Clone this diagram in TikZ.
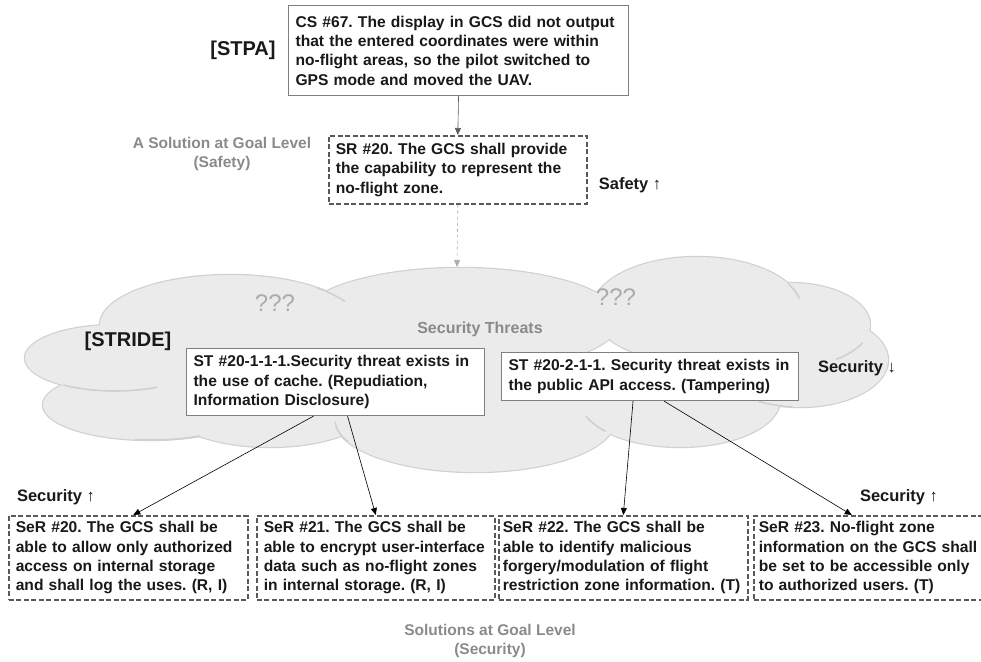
\documentclass[tikz,border=0pt]{standalone}
\usepackage{fontspec}
\setmainfont{Liberation Sans}
\usetikzlibrary{arrows.meta,positioning}
\definecolor{boxline}{HTML}{7F7F7F}
\definecolor{dashline}{HTML}{595959}
\definecolor{notegray}{HTML}{8A8A8A}
\definecolor{cloudfill}{HTML}{EBEBEB}
\definecolor{cloudline}{HTML}{D0D0D0}
\definecolor{qgray}{HTML}{ABABAB}
\frenchspacing

\begin{document}
\begin{tikzpicture}[x=1pt,y=-1pt,
 every node/.style={font=\fontsize{15.6}{19.4}\selectfont\bfseries,text=black!90,inner sep=0pt},
 threat/.style={draw=boxline,line width=1.1pt,fill=white,align=left,anchor=north west,inner xsep=7pt},
 goal/.style={threat,draw=dashline,line width=1.6pt,dash pattern=on 5pt off 2.5pt},
 effect/.style={font=\fontsize{16.5}{19}\selectfont\bfseries},
 stage/.style={font=\fontsize{20}{24}\selectfont\bfseries},
 goalnote/.style={text=notegray,align=center,font=\fontsize{15.5}{18.5}\selectfont\bfseries},
 unknown/.style={text=qgray,font=\fontsize{24}{28}\selectfont},
 puff/.style={cloudline,line width=1.6pt},
 link/.style={-{Triangle[length=7pt,width=6pt]},line width=0.6pt}]
\useasboundingbox (0,0) rectangle (981,661);

\foreach \cx/\cy/\rx/\ry in {115/358/90/33,150/405/107/35,270/400/110/47,475/420/140/52,680/400/100/47,
  800/360/88/47,790/325/80/42,697/310/105/53,460/320/160/52,230/325/130/50}
  \draw[cloudline,line width=2.4pt] (\cx,\cy) ellipse [x radius=\rx,y radius=\ry];
\foreach \cx/\cy/\rx/\ry in {115/358/90/33,150/405/107/35,270/400/110/47,475/420/140/52,680/400/100/47,
  800/360/88/47,790/325/80/42,697/310/105/53,460/320/160/52,230/325/130/50}
  \fill[cloudfill] (\cx,\cy) ellipse [x radius=\rx,y radius=\ry];
\foreach \cx/\cy/\rx/\ry/\a/\b in {115/358/90/33/62/125,230/325/130/50/-48/-28,697/310/105/53/-30/-12,
  790/325/80/42/25/55,800/360/88/47/95/118,680/400/100/47/138/160,475/420/140/52/155/178,150/405/107/35/62/98}
  \draw[puff] (\cx,\cy) ++(\a:\rx pt and -\ry pt) arc[start angle=\a,end angle=\b,x radius=\rx,y radius=\ry];
\coordinate (cloudtop) at (457,267);

\node[threat,minimum width=340pt,text width=326pt,minimum height=90pt] (cs) at (288,5)
 {CS \#67. The display in GCS did not output\\that the entered coordinates were within\\no-flight areas, so the pilot switched to\\GPS mode and moved the UAV.};
\node[goal,minimum width=258pt,text width=244pt,minimum height=68pt] (sr) at (328,135)
 {SR \#20. The GCS shall provide\\the capability to represent the\\no-flight zone.};
\node[threat,minimum width=298pt,text width=284pt,minimum height=67pt] (st1) at (186,348)
 {ST \#20-1-1-1.Security threat exists in\\the use of cache. (Repudiation,\\Information Disclosure)};
\node[threat,minimum width=297pt,text width=283pt,minimum height=48pt] (st2) at (501,352)
 {ST \#20-2-1-1. Security threat exists in\\the public API access. (Tampering)};
\node[goal,minimum width=239pt,text width=225pt,minimum height=84pt] (ser20) at (8,515)
 {SeR \#20. The GCS shall be\\able to allow only authorized\\access on internal storage\\and shall log the uses. (R, I)};
\node[goal,minimum width=238pt,text width=224pt,minimum height=84pt] (ser21) at (256,515)
 {SeR \#21. The GCS shall be\\able to encrypt user-interface\\data such as no-flight zones\\in internal storage. (R, I)};
\node[goal,minimum width=249pt,text width=241pt,minimum height=84pt,inner xsep=4pt] (ser22) at (498,515)
 {SeR \#22. The GCS shall be\\able to identify malicious\\forgery/modulation of flight\\restriction zone information. (T)};
\node[goal,minimum width=234pt,text width=224pt,minimum height=84pt,inner xsep=5pt] (ser23) at (753,515)
 {SeR \#23. No-flight zone\\information on the GCS shall\\be set to be accessible only\\to authorized users. (T)};

\node[stage] (stpa) at (243,50) {[STPA]};
\node[stage] (stride) at (128,341) {[STRIDE]};
\node[goalnote] (safenote) at (222,154) {A Solution at Goal Level\\(Safety)};
\node[goalnote] (secnote) at (490,641) {Solutions at Goal Level\\(Security)};
\node[goalnote,font=\fontsize{16}{19}\selectfont\bfseries] (threats) at (480,329) {Security Threats};
\node[unknown] (q1) at (275,303) {???};
\node[unknown] (q2) at (616,297) {???};
\node[effect] (safeup) at (630,185) {Safety ↑};
\node[effect] (secdown) at (857,368) {Security ↓};
\node[effect] (secupl) at (56,497) {Security ↑};
\node[effect] (secupr) at (899,497) {Security ↑};

\draw[link,draw=dashline] (cs.south) -- (sr.north);
\draw[link,draw=qgray,dashed] (sr.south) -- (cloudtop);
\draw[link] ([xshift=-22pt]st1.south) -- ([xshift=5pt]ser20.north);
\draw[link] ([xshift=12pt]st1.south) -- (ser21.north);
\draw[link] ([xshift=-17pt]st2.south) -- (ser22.north);
\draw[link] ([xshift=14pt]st2.south) -- ([xshift=-19pt]ser23.north);
\end{tikzpicture}
\end{document}
